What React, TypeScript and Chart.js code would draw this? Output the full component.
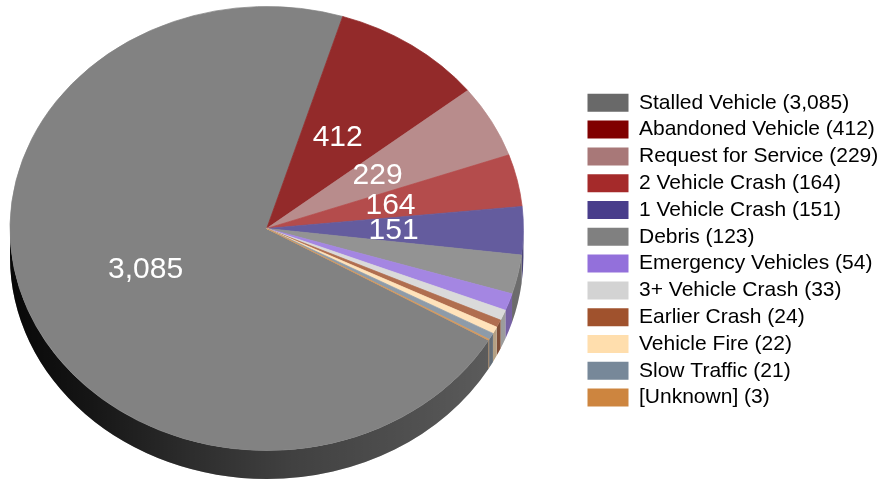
import { useEffect, useRef } from "react";
import { Chart, registerables } from "chart.js";

Chart.register(...registerables);

// ---- data ----
const CATEGORIES = [
  "Stalled Vehicle",
  "Abandoned Vehicle",
  "Request for Service",
  "2 Vehicle Crash",
  "1 Vehicle Crash",
  "Debris",
  "Emergency Vehicles",
  "3+ Vehicle Crash",
  "Earlier Crash",
  "Vehicle Fire",
  "Slow Traffic",
  "[Unknown]",
];
const COUNTS = [3085, 412, 229, 164, 151, 123, 54, 33, 24, 22, 21, 3];

// ---- styles ----
const LEGEND_COLORS = [
  "#696969", "#800000", "#a87878", "#a52a2a", "#483d8b", "#808080",
  "#9370db", "#d3d3d3", "#a0522d", "#ffdead", "#778899", "#cd853f",
];
const FACE_COLORS = [
  "#828282", "#932a2a", "#b88c8c", "#b44c4c", "#645c9e", "#939393",
  "#a486e2", "#dadada", "#b06e4f", "#ffe3bb", "#8d9ba9", "#d5995e",
];
const FONT_FAMILY = "'Liberation Sans', Arial, Helvetica, sans-serif";
const PIE = { cx: 266.7, cy: 228.5, rx: 256.7, ry: 222, depth: 28.5 };
const START_DEG = 120.2;
const LABEL_MIN_SHARE = 0.03;
const SIDE_SHADE = [
  [0, 0.06],
  [0.15, 0.16],
  [0.35, 0.34],
  [0.55, 0.5],
  [0.8, 0.62],
  [1, 0.74],
];

const fmt = (v: number) => v.toLocaleString("en-US");

const pie3d = {
  id: "pie3d",
  beforeDatasetsDraw(chart: any) {
    const meta = chart.getDatasetMeta(0);
    const arcs = meta.data;
    const ctx: CanvasRenderingContext2D = chart.ctx;
    if (!arcs.length) return;
    const a0 = arcs[0];
    const r0 = a0.outerRadius;
    const x0 = a0.x;
    const y0 = a0.y;
    const sx = PIE.rx / r0;
    const sy = PIE.ry / r0;
    chart.$pie3d = { x0, y0, sx, sy };

    // side walls (front half only)
    const grad = ctx.createLinearGradient(PIE.cx - PIE.rx, 0, PIE.cx + PIE.rx, 0);
    SIDE_SHADE.forEach(([p, f]) => grad.addColorStop(p, `rgba(0,0,0,${1 - f})`));
    arcs.forEach((arc: any, i: number) => {
      let s = arc.startAngle;
      let e = arc.endAngle;
      const TAU = Math.PI * 2;
      const shift = Math.floor(s / TAU) * TAU;
      s -= shift;
      e -= shift;
      const ranges: [number, number][] = [];
      const add = (lo: number, hi: number) => {
        const a = Math.max(s, lo);
        const b = Math.min(e, hi);
        if (b > a) ranges.push([a, b]);
      };
      add(0, Math.PI);
      add(TAU, TAU + Math.PI);
      ranges.forEach(([a, b]) => {
        ctx.save();
        ctx.beginPath();
        ctx.ellipse(PIE.cx, PIE.cy, PIE.rx, PIE.ry, 0, a, b, false);
        ctx.ellipse(PIE.cx, PIE.cy + PIE.depth, PIE.rx, PIE.ry, 0, b, a, true);
        ctx.closePath();
        ctx.fillStyle = FACE_COLORS[i];
        ctx.fill();
        ctx.fillStyle = grad;
        ctx.fill();
        ctx.restore();
      });
    });

    ctx.save();
    ctx.translate(PIE.cx, PIE.cy);
    ctx.scale(sx, sy);
    ctx.translate(-x0, -y0);
  },
  afterDatasetsDraw(chart: any) {
    const ctx: CanvasRenderingContext2D = chart.ctx;
    const st = chart.$pie3d;
    if (!st) return;
    ctx.restore();
    const arcs = chart.getDatasetMeta(0).data;
    const total = COUNTS.reduce((a, b) => a + b, 0);
    ctx.save();
    ctx.font = `30px ${FONT_FAMILY}`;
    ctx.fillStyle = "#ffffff";
    ctx.textAlign = "center";
    ctx.textBaseline = "alphabetic";
    arcs.forEach((arc: any, i: number) => {
      if (COUNTS[i] / total < LABEL_MIN_SHARE) return;
      const p = arc.tooltipPosition(false);
      const X = PIE.cx + (p.x - st.x0) * st.sx;
      const Y = PIE.cy + (p.y - st.y0) * st.sy;
      ctx.fillText(fmt(COUNTS[i]), X - 1.5, Y + 0.358 * 30 - 1.5);
    });
    ctx.restore();
  },
};

export default function App() {
  const ref = useRef<HTMLCanvasElement | null>(null);
  useEffect(() => {
    if (!ref.current) return;
    const chart = new Chart(ref.current, {
      type: "pie",
      data: {
        labels: CATEGORIES,
        datasets: [
          {
            data: COUNTS,
            backgroundColor: FACE_COLORS,
            borderColor: FACE_COLORS,
            borderWidth: 0.6,
            clip: false as any,
          },
        ],
      },
      options: {
        responsive: false,
        animation: false,
        events: [],
        rotation: START_DEG,
        layout: { padding: { top: 86.5, right: 0, left: 0, bottom: 0 } },
        plugins: {
          tooltip: { enabled: false },
          legend: {
            position: "right",
            align: "start",
            maxWidth: 299.3,
            labels: {
              boxWidth: 41,
              boxHeight: 18,
              padding: 5.8,
              color: "#000000",
              font: { family: FONT_FAMILY, size: 21 },
              generateLabels: () =>
                CATEGORIES.map((c, i) => ({
                  text: `${c} (${fmt(COUNTS[i])})`,
                  fillStyle: LEGEND_COLORS[i],
                  strokeStyle: LEGEND_COLORS[i],
                  lineWidth: 0,
                  hidden: false,
                  index: i,
                })),
            },
          },
        },
      },
      plugins: [pie3d],
    });
    return () => chart.destroy();
  }, []);
  return (
    <div style={{ position: "absolute", left: 0, top: 0, width: 881, height: 480, background: "#fff" }}>
      <canvas ref={ref} width={881} height={480} style={{ display: "block" }} />
    </div>
  );
}
